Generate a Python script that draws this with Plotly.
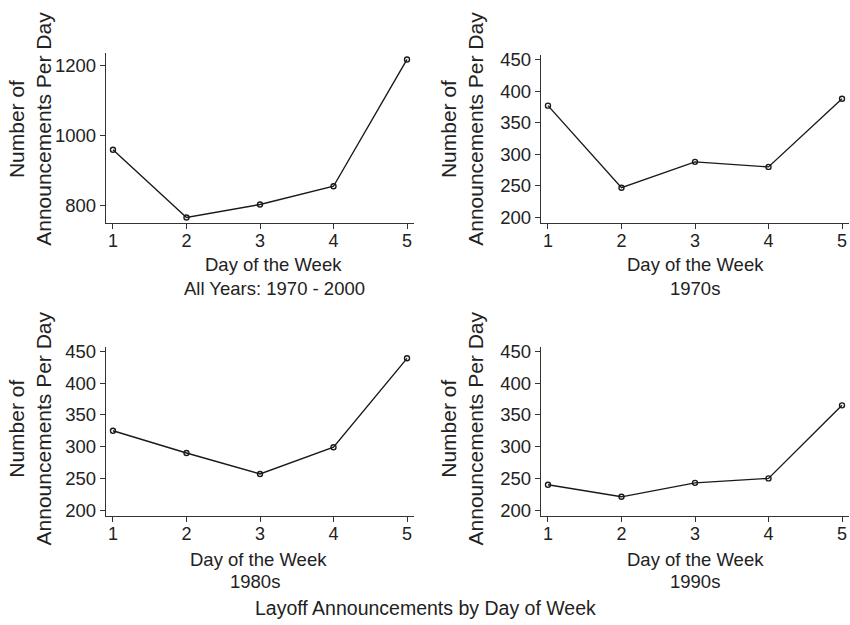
import plotly.graph_objects as go

days = [1, 2, 3, 4, 5]
all_years = [959, 766, 803, 855, 1216]
s1970 = [377, 247, 288, 280, 388]
s1980 = [325, 290, 257, 299, 439]
s1990 = [240, 221, 243, 250, 365]
subtitles = ["All Years: 1970 - 2000", "1970s", "1980s", "1990s"]
x_title = "Day of the Week"
y_title = "Number of<br>Announcements Per Day"
main_title = "Layoff Announcements by Day of Week"

W, H = 850, 625
FONT = "Liberation Sans, Arial, Helvetica, sans-serif"
TXT = "#222222"
AX = "#333333"

# plot areas in pixels: (left, right, top, bottom)
boxes = [(106, 414, 48, 221), (541, 849, 50, 221), (106, 414, 347, 519), (541, 849, 347, 519)]
yranges = [[750, 1234], [191, 457], [191, 457], [191, 457]]
yticks = [[800, 1000, 1200], [200, 250, 300, 350, 400, 450], [200, 250, 300, 350, 400, 450], [200, 250, 300, 350, 400, 450]]
series = [all_years, s1970, s1980, s1990]

fig = go.Figure()
layout = {}
for i, (vals, box, yr, yt) in enumerate(zip(series, boxes, yranges, yticks)):
    n = "" if i == 0 else str(i + 1)
    l, r, t, b = box
    fig.add_trace(go.Scatter(
        x=days, y=vals, mode="lines+markers",
        line=dict(color="#1a1a1a", width=1.4),
        marker=dict(symbol="circle-open", size=5, color="#1a1a1a", line=dict(width=1.4)),
        xaxis="x" + n, yaxis="y" + n, showlegend=False, hoverinfo="x+y"))
    layout["xaxis" + n] = dict(
        domain=[l / W, r / W], anchor="y" + n, range=[0.905, 5.095],
        tickvals=days, showgrid=False, zeroline=False, showline=True,
        linecolor=AX, linewidth=1.3, ticks="outside", ticklen=5, tickcolor=AX,
        ticklabelstandoff=-4,
        tickfont=dict(size=18, color=TXT, family=FONT))
    layout["yaxis" + n] = dict(
        domain=[1 - b / H, 1 - t / H], anchor="x" + n, range=yr,
        tickvals=yt, showgrid=False, zeroline=False, showline=True,
        linecolor=AX, linewidth=1.3, ticks="outside", ticklen=5, tickcolor=AX,
        tickfont=dict(size=18.5, color=TXT, family=FONT))

annos = []
def add(text, px, py, size, angle=0):
    annos.append(dict(text=text, x=px / W, y=1 - py / H, xref="paper", yref="paper",
                      showarrow=False, xanchor="center", yanchor="middle",
                      textangle=angle, font=dict(size=size, color=TXT, family=FONT)))

xt_pos = [(273, 263), (695, 263), (258, 563), (695, 563)]
sub_pos = [(274, 288), (695, 288), (255, 586), (695, 586)]
yt_pos = [(30, 125), (462, 125), (30, 430), (462, 430)]
for i in range(4):
    add(x_title, *xt_pos[i], 18.5)
    add(subtitles[i], *sub_pos[i], 18.5)
    add(y_title, *yt_pos[i], 21, angle=-90)
add(main_title, 425, 613, 19.5)

fig.update_layout(width=W, height=H, margin=dict(l=0, r=0, t=0, b=0),
                  paper_bgcolor="white", plot_bgcolor="white",
                  annotations=annos, **layout)
fig.write_html("out.html")
